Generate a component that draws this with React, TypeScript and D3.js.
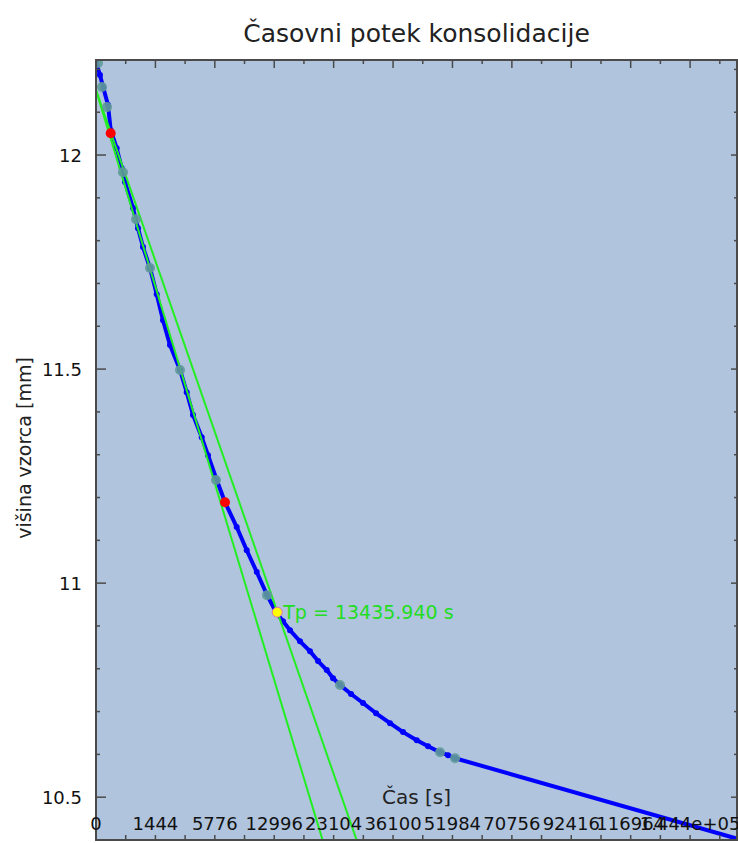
import * as d3 from 'd3'

const TITLE = 'Časovni potek konsolidacije'
const X_TITLE = 'Čas [s]'
const Y_TITLE = 'višina vzorca [mm]'

// meritve: čas [s] in višina vzorca [mm]
const timeS = [
  0, 6.5, 21.8, 58.9, 88.4, 175, 270, 344, 560, 722,
  904, 1193, 1508, 1837, 2241, 2888, 3367, 3850, 4572, 5134,
  5962, 6810, 8101, 9295, 10568, 11925, 13260, 14311, 15401, 17031,
  18741, 20169, 21781, 22987, 24364, 26611, 29173, 32085, 35373, 38570,
  42091, 45110, 48427, 50706, 52744, 176100
]
const heightMm = [
  12.218, 12.187, 12.157, 12.117, 12.058, 12.016, 11.970, 11.937, 11.876, 11.829,
  11.785, 11.736, 11.675, 11.614, 11.556, 11.498, 11.446, 11.393, 11.341, 11.299,
  11.241, 11.189, 11.131, 11.077, 11.026, 10.974, 10.932, 10.911, 10.890, 10.864,
  10.841, 10.818, 10.797, 10.778, 10.762, 10.741, 10.720, 10.696, 10.673, 10.652,
  10.633, 10.619, 10.605, 10.598, 10.591, 10.393
]

// odčitki, označeni s sivo-zelenimi pikami
const markT = [1.6, 14.7, 49.5, 298, 655, 1193, 2888, 5893, 11967, 24364, 48427, 52744]
const markH = [12.215, 12.159, 12.112, 11.960, 11.850, 11.736, 11.498, 11.241, 10.972, 10.762, 10.605, 10.591]

// točki, med katerima je izbran linearni del
const fitT = [88.4, 6810]
const fitH = [12.051, 11.189]

// Taylorjeva metoda: premica in premica z 1.15x abscisami
const tangentH0 = 12.152
const tangentSlope = [0.01209, 0.01051]

const tpT = 13435.94
const tpH = 10.932
const tpLabel = 'Tp = 13435.940 s'

const xTickValues = [0, 1444, 5776, 12996, 23104, 36100, 51984, 70756, 92416, 116964, 144400]
const xTickLabels = ['0', '1444', '5776', '12996', '23104', '36100', '51984', '70756', '92416', '116964', '1.444e+05']
const yTickValues = [10.5, 11, 11.5, 12]
const yTickLabels = ['10.5', '11', '11.5', '12']

const X_MAX = 168100
const Y_MIN = 10.4
const Y_MAX = 12.222

const FONT = '"DejaVu Sans", sans-serif'

export default function App() {
  const width = 738
  const height = 843
  const plot = { x0: 96, x1: 737, y0: 60, y1: 840 }

  const x = d3.scaleSqrt().domain([0, X_MAX]).range([plot.x0, plot.x1])
  const y = d3.scaleLinear().domain([Y_MIN, Y_MAX]).range([plot.y1, plot.y0])

  const pts: [number, number][] = timeS.map((t, i) => [t, heightMm[i]])
  const line = d3.line<[number, number]>().x(d => x(d[0])).y(d => y(d[1]))

  // minor ticks halfway between labelled ones (in sqrt space)
  const xStep = Math.sqrt(xTickValues[1]) / 2
  const xMinor = d3.range(0, Math.sqrt(X_MAX), xStep).map(s => s * s)
  const yMinor = d3.range(0, 20)
    .map(i => +(Y_MIN + i * 0.1).toFixed(1))
    .filter(v => v > Y_MIN + 0.01 && v < Y_MAX)

  const tangents = tangentSlope.map(a => {
    const sEnd = (tangentH0 - (Y_MIN - 0.1)) / a
    return [[0, tangentH0], [sEnd * sEnd, tangentH0 - a * sEnd]] as [number, number][]
  })

  const axisColor = '#4a4a4a'
  const isMajorX = (v: number) => xTickValues.some(m => Math.abs(m - v) < 1)
  const isMajorY = (v: number) => yTickValues.some(m => Math.abs(m - v) < 0.001)

  return (
    <>
      <style>{'body{margin:0}'}</style>
      <svg width={width} height={height} style={{ display: 'block', fontFamily: FONT }}>
        <defs>
          <clipPath id="plot-clip">
            <rect x={plot.x0} y={plot.y0} width={plot.x1 - plot.x0} height={plot.y1 - plot.y0} />
          </clipPath>
        </defs>

        <rect x={0} y={0} width={width} height={height} fill="white" />
        <rect x={plot.x0} y={plot.y0} width={plot.x1 - plot.x0} height={plot.y1 - plot.y0} fill="#b0c4de" />

        <text x={(plot.x0 + plot.x1) / 2} y={42} textAnchor="middle" fontSize={25} fill="#222">
          {TITLE}
        </text>

        <g clipPath="url(#plot-clip)">
          {/* measured curve */}
          <path d={line(pts) ?? ''} fill="none" stroke="#0000ff" strokeWidth={4} strokeLinejoin="round" />
          {pts.slice(0, -1).map((d, i) => (
            <circle key={`p-${i}`} cx={x(d[0])} cy={y(d[1])} r={3} fill="#0000ff" />
          ))}

          {/* tangent lines */}
          {tangents.map((tl, i) => (
            <path key={`tan-${i}`} d={line(tl) ?? ''} fill="none" stroke="#22ee22" strokeWidth={2} />
          ))}

          {markT.map((t, i) => (
            <circle key={`m-${i}`} cx={x(t)} cy={y(markH[i])} r={5} fill="#5f9a98" fillOpacity={0.9} />
          ))}
          {fitT.map((t, i) => (
            <circle key={`f-${i}`} cx={x(t)} cy={y(fitH[i])} r={5} fill="#ff0000" />
          ))}
          <circle cx={x(tpT)} cy={y(tpH)} r={5} fill="#ffff00" stroke="#e070b0" strokeWidth={1} />
          <text x={x(tpT) + 6} y={y(tpH) + 7} fontSize={19} fill="#22dd22">{tpLabel}</text>
        </g>

        {/* frame */}
        <rect x={plot.x0} y={plot.y0} width={plot.x1 - plot.x0} height={plot.y1 - plot.y0}
          fill="none" stroke={axisColor} strokeWidth={2} />

        {/* x ticks, top and bottom */}
        {xMinor.map((v, i) => {
          const px = x(v)
          const len = isMajorX(v) ? 8 : 4
          return (
            <g key={`xt-${i}`} stroke={axisColor} strokeWidth={1.5}>
              <line x1={px} x2={px} y1={plot.y0} y2={plot.y0 + len} />
              <line x1={px} x2={px} y1={plot.y1} y2={plot.y1 - 5} />
            </g>
          )
        })}

        {/* y ticks, left and right */}
        {yMinor.map((v, i) => {
          const py = y(v)
          const len = isMajorY(v) ? 10 : 4
          return (
            <g key={`yt-${i}`} stroke={axisColor} strokeWidth={1.5}>
              <line x1={plot.x0} x2={plot.x0 + len} y1={py} y2={py} />
              <line x1={plot.x1} x2={plot.x1 - (isMajorY(v) ? 6 : 3)} y1={py} y2={py} />
            </g>
          )
        })}

        {xTickValues.map((v, i) => (
          <text key={`xl-${i}`} x={x(v)} y={830} textAnchor="middle" fontSize={18} fill="#111">
            {xTickLabels[i]}
          </text>
        ))}
        {yTickValues.map((v, i) => (
          <text key={`yl-${i}`} x={82} y={y(v)} dy="0.36em" textAnchor="end" fontSize={18} fill="#111">
            {yTickLabels[i]}
          </text>
        ))}

        <text x={(plot.x0 + plot.x1) / 2} y={804} textAnchor="middle" fontSize={20} fill="#222">
          {X_TITLE}
        </text>
        <text transform={`translate(31, 448) rotate(-90)`} textAnchor="middle" fontSize={19} fill="#222">
          {Y_TITLE}
        </text>
      </svg>
    </>
  )
}
